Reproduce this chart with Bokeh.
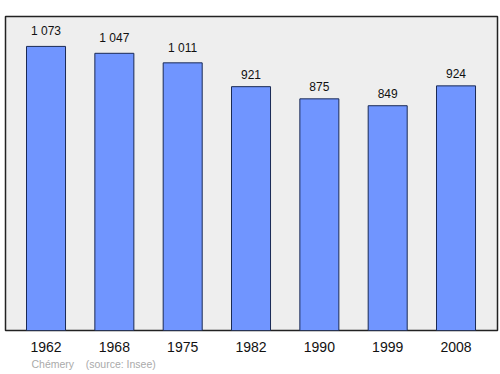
from bokeh.plotting import figure
from bokeh.models import ColumnDataSource, FixedTicker, Range1d, Title, LabelSet
from bokeh.core.properties import value
from bokeh.embed import file_html
from bokeh.resources import INLINE

years = ["1962", "1968", "1975", "1982", "1990", "1999", "2008"]
population = [1073, 1047, 1011, 921, 875, 849, 924]
labels = ["1 073", "1 047", "1 011", "921", "875", "849", "924"]

xs = list(range(len(years)))
src = ColumnDataSource(dict(x=xs, top=population, label=labels))

p = figure(width=500, height=374, output_backend="svg", toolbar_location=None,
           x_range=Range1d(-0.593, len(years) - 1 + 0.607), y_range=Range1d(0, 1186),
           min_border_left=5, min_border_right=3, min_border_top=16, min_border_bottom=44)
p.background_fill_color = "#eeeeee"
p.border_fill_color = "white"
p.outline_line_color = "#222222"
p.outline_line_width = 1.5
p.grid.visible = False
p.yaxis.visible = False

p.vbar(x="x", top="top", bottom=0, width=0.571, source=src,
       fill_color="#7095ff", line_color="#1a2a55", line_width=1)

p.add_layout(LabelSet(x="x", y="top", text="label", source=src, text_align="center",
                      text_baseline="bottom", y_offset=8, text_font_size=value("12px"),
                      text_font=value("Liberation Sans"), text_color="#111111"))

ax = p.xaxis[0]
ax.ticker = FixedTicker(ticks=xs)
ax.major_label_overrides = {i: y for i, y in enumerate(years)}
ax.axis_line_color = None
ax.major_tick_line_color = None
ax.minor_tick_line_color = None
ax.major_label_text_font = "Liberation Sans"
ax.major_label_text_font_size = "14px"
ax.major_label_text_color = "#111111"
ax.major_label_standoff = 5

foot = Title(text="Chémery\u00a0\u00a0\u00a0\u00a0(source: Insee)", align="left", offset=26,
             text_font="Liberation Sans", text_font_size="10.5px", text_color="#aaaaaa",
             text_font_style="normal", standoff=3)
p.add_layout(foot, "below")

open("out.html", "w").write(file_html(p, INLINE))
